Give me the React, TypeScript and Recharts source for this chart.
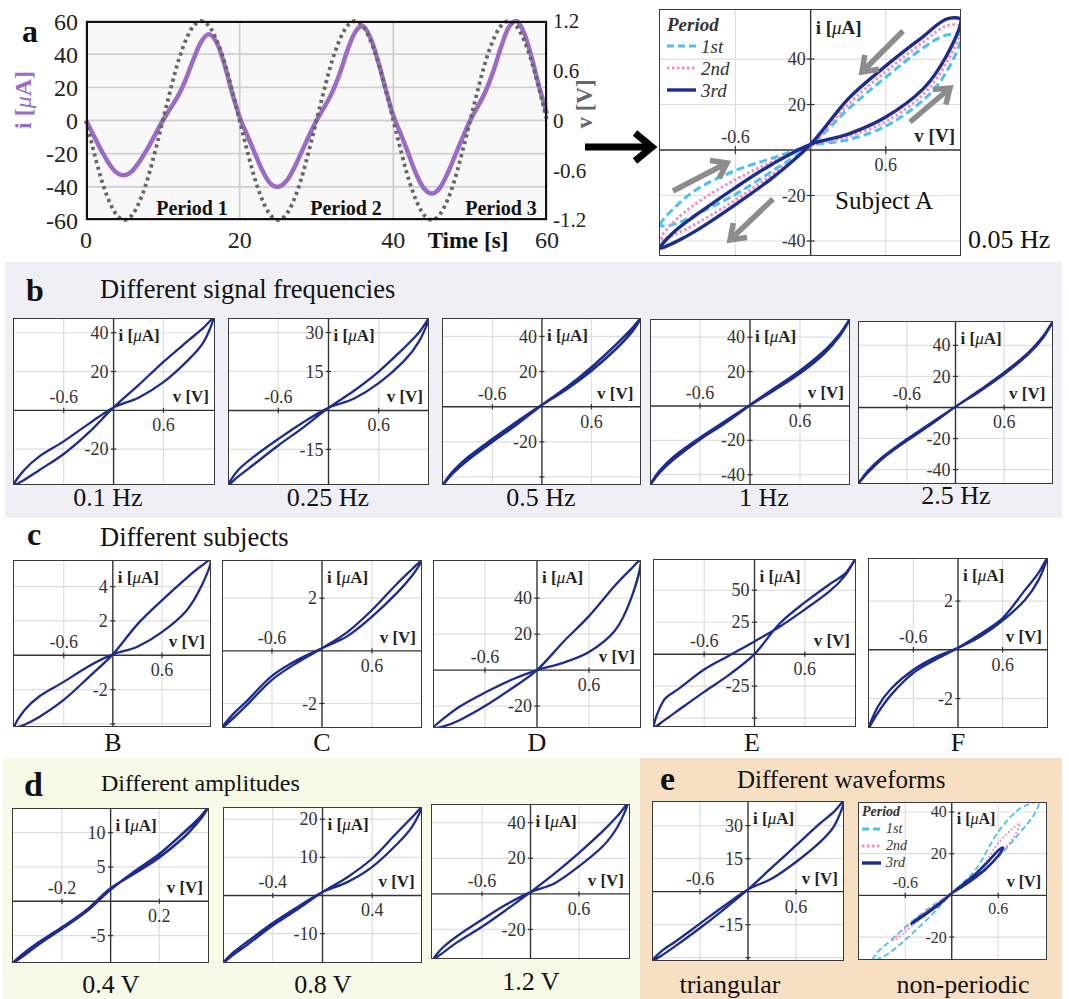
import React from 'react';
import { LineChart, Line, XAxis, YAxis, CartesianGrid, ReferenceLine, ReferenceDot } from 'recharts';

const SERIF = '"Liberation Serif", "DejaVu Serif", serif';
const NAVY = '#1c2d8f';
const BLUE = '#4cc0ee';
const PINK = '#f68cc4';
const PURPLE = '#9a6cc6';

// panel a, time series (1 s steps)
const tSec = [0, 1, 2, 3, 4, 5, 6, 7, 8, 9, 10, 11, 12, 13, 14, 15, 16, 17, 18, 19, 20,
  21, 22, 23, 24, 25, 26, 27, 28, 29, 30, 31, 32, 33, 34, 35, 36, 37, 38, 39, 40,
  41, 42, 43, 44, 45, 46, 47, 48, 49, 50, 51, 52, 53, 54, 55, 56, 57, 58, 59, 60];
const iSeries = [0, -9, -18, -26, -31.5, -33, -30.5, -24.5, -17, -8.5, 0, 7.5, 15, 25, 37, 47.5, 52, 47, 34, 17, 2,
  -9, -20, -30.5, -38, -40, -37, -29.5, -19.5, -9.5, 0, 8, 16.5, 28, 42, 53, 57, 50, 36, 19, 3,
  -8.5, -20.5, -32.5, -41, -44, -41, -32.5, -21.5, -10.5, 0, 8.5, 17.5, 29.5, 44, 56, 60, 53, 38, 20, 4];
const vSeries = [0, -0.37, -0.71, -0.97, -1.14, -1.2, -1.14, -0.97, -0.71, -0.37, 0, 0.37, 0.71, 0.97, 1.14, 1.2, 1.14, 0.97, 0.71, 0.37, 0,
  -0.37, -0.71, -0.97, -1.14, -1.2, -1.14, -0.97, -0.71, -0.37, 0, 0.37, 0.71, 0.97, 1.14, 1.2, 1.14, 0.97, 0.71, 0.37, 0,
  -0.37, -0.71, -0.97, -1.14, -1.2, -1.14, -0.97, -0.71, -0.37, 0, 0.37, 0.71, 0.97, 1.14, 1.2, 1.14, 0.97, 0.71, 0.37, 0];
const tTicks = [0, 20, 40, 60];
const iTicks = [-60, -40, -20, 0, 20, 40, 60];
const vTicks = [-1.2, -0.6, 0, 0.6, 1.2];

// voltage grids for the loops
const v12 = [-1.2, -1.08, -0.9, -0.6, -0.3, 0, 0.3, 0.6, 0.9, 1.08, 1.2];
const v08 = [-0.8, -0.72, -0.6, -0.4, -0.2, 0, 0.2, 0.4, 0.6, 0.72, 0.8];
const v04 = [-0.4, -0.36, -0.3, -0.2, -0.1, 0, 0.1, 0.2, 0.3, 0.36, 0.4];
const vNp1 = [-1.02, -0.95, -0.8, -0.5, -0.25, 0, 0.3, 0.6, 0.85, 1.05, 1.13];
const vNp2 = [-0.76, -0.7, -0.6, -0.4, -0.2, 0, 0.2, 0.4, 0.6, 0.8, 0.88];
const vNp3 = [-0.52, -0.45, -0.35, -0.25, -0.12, 0, 0.15, 0.3, 0.45, 0.6, 0.66];

// a: subject A, 0.05 Hz, three periods (rise = v increasing, fall = v decreasing)
const aRise1 = [-33, -25, -17, -9, -3.5, 2, 4.5, 10.5, 22, 34, 50];
const aFall1 = [-33, -32.5, -28, -19.5, -9, 2, 18, 32, 45, 50.5, 50];
const aRise2 = [-39, -31, -23, -13, -5, 2, 6, 12.5, 24.5, 38, 54];
const aFall2 = [-39, -37, -32, -22, -10.5, 2, 20, 34.5, 47.5, 54.5, 54];
const aRise3 = [-43, -35.5, -28, -16.5, -6, 2.5, 7, 14.5, 27, 41, 57];
const aFall3 = [-43, -40.5, -35, -24, -12, 2.5, 22.5, 37, 50, 57.5, 57];

// b: frequencies
const b01Rise = [-38.5, -31, -24, -16, -7, 1.5, 6.5, 14.5, 26, 35, 47.5];
const b01Fall = [-38.5, -36, -31, -22.5, -11.5, 1.5, 13, 25, 36, 42.5, 47.5];
const b025Rise = [-28.7, -23, -18, -11, -4.5, 1, 4.5, 10.5, 19, 26.5, 35.5];
const b025Fall = [-28.7, -25.5, -21, -13.5, -6.5, 1, 7.5, 15, 24, 30, 35.5];
const b05Rise = [-44.6, -37, -29, -18.5, -8.5, 1, 10, 20.5, 33, 42, 50.5];
const b05Fall = [-44.6, -38, -30.5, -20, -10, 1, 11, 22.5, 35.5, 44, 50.5];
const b1Rise = [-46, -37.5, -29, -18.5, -9, 0.5, 9.5, 19, 31, 41, 50.6];
const b1Fall = [-46, -38.5, -30.5, -19.5, -10, 0.5, 10.5, 20.5, 32.5, 42, 50.6];
const b25Rise = [-49.3, -41, -32, -20.5, -10, 0.5, 10.5, 21.5, 34.5, 45, 55.7];
const b25Fall = [-49.3, -42, -33, -21.5, -10.8, 0.5, 11.2, 22.5, 35.5, 46, 55.7];

// c: subjects B..F
const cBRise = [-4.18, -3.2, -2.4, -1.55, -0.65, 0.05, 0.5, 1.35, 2.6, 4, 5.55];
const cBFall = [-4.18, -4.05, -3.6, -2.6, -1.3, 0.05, 1.8, 3.2, 4.5, 5.2, 5.55];
const cCRise = [-2.93, -2.45, -1.9, -0.95, -0.35, 0.1, 0.55, 1.3, 2.2, 2.85, 3.45];
const cCFall = [-2.93, -2.6, -2.05, -1.1, -0.45, 0.1, 0.7, 1.55, 2.55, 3.1, 3.45];
const cDRise = [-32.2, -27, -20.5, -12.5, -5.5, 0, 4, 10, 22, 39, 61];
const cDFall = [-32.2, -31.3, -28, -20, -10.5, 0, 15.5, 30, 47, 56, 61];
const cERise = [-57, -36, -27, -12, -1, 10, 21.5, 35, 49.5, 61.5, 74.5];
const cEFall = [-57, -52, -43.5, -29.5, -16, 0, 24, 40.5, 55, 63, 74.5];
const cFRise = [-3.21, -2.35, -1.6, -0.82, -0.3, 0.08, 0.55, 1.2, 2.05, 2.85, 3.77];
const cFFall = [-3.21, -2.6, -1.85, -0.95, -0.4, 0.08, 0.65, 1.3, 2.45, 3.15, 3.77];

// d: amplitudes
const d04Rise = [-9, -7.7, -6.1, -3.8, -1.3, 1.9, 4.1, 6.4, 9.3, 11.6, 13.6];
const d04Fall = [-9, -8, -6.4, -4, -1.5, 1.7, 4.4, 6.9, 10, 12, 13.6];
const d08Rise = [-17.7, -15, -12, -7.2, -3, 0.9, 3.5, 7.5, 13.5, 18, 23.2];
const d08Fall = [-17.7, -15.6, -12.8, -7.9, -3.6, 0.9, 4.8, 9.7, 16.5, 20.5, 23.2];
const d12Rise = [-36.6, -30, -23.5, -14.5, -6, 1, 6, 15.5, 27, 38, 50.5];
const d12Fall = [-36.6, -33, -27, -18.5, -9, 1, 11.5, 23, 35.5, 44, 50.5];

// e: waveforms
const eTriRise = [-31.5, -27, -22.5, -14.5, -6.5, 1, 6, 13.5, 22.5, 30, 41.2];
const eTriFall = [-31.5, -29, -24.5, -16.5, -8, 1, 11, 21, 31, 36.5, 41.2];
const eNp1Rise = [-31, -27, -22, -12, -5, 1, 9, 18.4, 28.8, 38, 44.8];
const eNp1Fall = [-31, -30.5, -27.5, -18, -9, 1, 12, 30.4, 40.8, 44.5, 44.8];
const eNp2Rise = [-21.6, -19, -16, -9.5, -4, 1, 5.5, 11, 19, 28, 34.4];
const eNp2Fall = [-21.6, -20.5, -17.5, -11, -5, 1, 7, 14, 25, 32.5, 34.4];
const eNp3Rise = [-13.6, -11.5, -9, -6.3, -2.7, 1, 4.5, 8.5, 13, 19, 22.9];
const eNp3Fall = [-13.6, -12, -9.5, -6.8, -3, 1, 5.5, 10, 15.5, 21.5, 22.9];

const timeData = tSec.map((t, k) => ({ t, i: iSeries[k], v: vSeries[k] }));

const loopPoints = (v: number[], rise: number[], fall: number[]) => {
  const pts = v.map((x, k) => ({ v: x, i: rise[k] }));
  for (let k = v.length - 2; k >= 0; k--) pts.push({ v: v[k], i: fall[k] });
  return pts;
};

// smooth curve through the points; tangents scaled by chord length, closed paths wrap round
const smoothCurve = (context: any) => {
  let pts: number[][] = [];
  const dist = (a: number[], b: number[]) => Math.hypot(b[0] - a[0], b[1] - a[1]) || 1e-6;
  return {
    areaStart() {},
    areaEnd() {},
    lineStart() { pts = []; },
    point(x: number, y: number) { pts.push([+x, +y]); },
    lineEnd() {
      const n = pts.length;
      if (!n) return;
      context.moveTo(pts[0][0], pts[0][1]);
      const closed = n > 3 && dist(pts[0], pts[n - 1]) < 0.5;
      for (let k = 0; k < n - 1; k++) {
        const p1 = pts[k];
        const p2 = pts[k + 1];
        let p0 = pts[Math.max(k - 1, 0)];
        let p3 = pts[Math.min(k + 2, n - 1)];
        let d01 = k > 0 ? dist(p0, p1) : 0;
        let d23 = k + 2 < n ? dist(p2, p3) : 0;
        if (closed && k === 0) { p0 = pts[n - 2]; d01 = dist(p0, p1); }
        if (closed && k === n - 2) { p3 = pts[1]; d23 = dist(p2, p3); }
        const d12 = dist(p1, p2);
        const s1 = d12 / (3 * (d01 + d12));
        const s2 = d12 / (3 * (d12 + d23));
        context.bezierCurveTo(
          p1[0] + (p2[0] - p0[0]) * s1, p1[1] + (p2[1] - p0[1]) * s1,
          p2[0] - (p3[0] - p1[0]) * s2, p2[1] - (p3[1] - p1[1]) * s2,
          p2[0], p2[1],
        );
      }
    },
  };
};

type Loop = { pts: { v: number; i: number }[]; color: string; width: number; dash?: string };

const navyLoop = (v: number[], rise: number[], fall: number[], width = 2.3): Loop => ({
  pts: loopPoints(v, rise, fall), color: NAVY, width,
});

const DotText = (props: any) => {
  const { viewBox, text, dx = 0, dy = 0, anchor = 'middle', size = 17, bold = false, rich = false, fill = '#333' } = props;
  if (!viewBox) return null;
  const cx = viewBox.x + (viewBox.width || 0) / 2;
  const cy = viewBox.y + (viewBox.height || 0) / 2;
  return (
    <text x={cx + dx} y={cy + dy} textAnchor={anchor} fontSize={size} fontFamily={SERIF}
      fontWeight={bold ? 700 : 400} fill={fill}>
      {rich ? (
        <>
          <tspan fontWeight={700}>i [</tspan>
          <tspan fontStyle="italic" fontWeight={400}>μ</tspan>
          <tspan fontWeight={700}>A]</tspan>
        </>
      ) : text}
    </text>
  );
};

type PlotProps = {
  box: [number, number, number, number];
  xDom: [number, number];
  yDom: [number, number];
  xTicks: number[];
  yTicks: number[];
  yGrid: number[];
  loops: Loop[];
  fs?: number;
  afs?: number;
};

const LoopPlot = ({ box, xDom, yDom, xTicks, yTicks, yGrid, loops, fs = 18, afs = 17 }: PlotProps) => {
  const [left, top, w, h] = box;
  const hid = { fill: 'none', stroke: 'none', r: 0, ifOverflow: 'visible' as const };
  const mx = (xDom[1] - xDom[0]) * 0.013;
  const my = (yDom[1] - yDom[0]) * 0.016;
  return (
    <div style={{ position: 'absolute', left, top, width: w, height: h, background: '#fff' }}>
      <LineChart width={w} height={h} margin={{ top: 0, right: 0, bottom: 0, left: 0 }}>
        <XAxis type="number" dataKey="v" domain={xDom} hide />
        <YAxis type="number" dataKey="i" domain={yDom} hide />
        {xTicks.map((x) => <ReferenceLine key={'gx' + x} x={x} stroke="#dedede" strokeWidth={1.2} />)}
        {yGrid.map((y) => <ReferenceLine key={'gy' + y} y={y} stroke="#dedede" strokeWidth={1.2} />)}
        <ReferenceLine x={0} stroke="#333" strokeWidth={1.4} />
        <ReferenceLine y={0} stroke="#333" strokeWidth={1.4} />
        {yGrid.map((y) => (
          <ReferenceLine key={'my' + y} segment={[{ x: -mx, y }, { x: mx, y }]} stroke="#333" strokeWidth={1.2} />
        ))}
        {xTicks.map((x) => (
          <ReferenceLine key={'mx' + x} segment={[{ x, y: -my }, { x, y: my }]} stroke="#333" strokeWidth={1.2} />
        ))}
        {loops.map((lp, k) => (
          <Line key={k} data={lp.pts} dataKey="i" type={smoothCurve as any} stroke={lp.color} strokeWidth={lp.width}
            strokeDasharray={lp.dash} dot={false} activeDot={false} isAnimationActive={false} />
        ))}
        {yTicks.map((y) => (
          <ReferenceDot key={'ty' + y} x={0} y={y} {...hid}
            label={<DotText text={String(y)} anchor="end" dx={-5} dy={fs * 0.34} size={fs} />} />
        ))}
        {xTicks.map((x) => (
          <ReferenceDot key={'tx' + x} x={x} y={0} {...hid}
            label={<DotText text={String(x)} anchor="middle" dy={x < 0 ? -7 : fs + 3} size={fs} />} />
        ))}
        <ReferenceDot x={0} y={yDom[1]} {...hid}
          label={<DotText rich anchor="start" dx={5} dy={afs + 6} size={afs} fill="#222" />} />
        <ReferenceDot x={xDom[1]} y={0} {...hid}
          label={<DotText text="v [V]" anchor="end" dx={-6} dy={-8} size={afs} bold fill="#222" />} />
      </LineChart>
      <div style={{ position: 'absolute', left: 0, top: 0, width: w, height: h, border: '1.6px solid #3a3a3a', boxSizing: 'border-box', pointerEvents: 'none' }} />
    </div>
  );
};

const Txt = ({ x, y, size, children, bold = false, italic = false, align = 'left', color = '#111' }: any) => (
  <div style={{
    position: 'absolute', left: x, top: y, fontSize: size, lineHeight: 1, whiteSpace: 'nowrap',
    fontWeight: bold ? 700 : 400, fontStyle: italic ? 'italic' : 'normal', color,
    transform: align === 'center' ? 'translate(-50%, -50%)' : 'translate(0, -50%)',
  }}>{children}</div>
);

const Arrow = ({ x1, y1, x2, y2, color, width, head, half }: any) => {
  const a = Math.atan2(y2 - y1, x2 - x1);
  const bx = x2 - head * Math.cos(a);
  const by = y2 - head * Math.sin(a);
  const px = Math.sin(a) * half;
  const py = -Math.cos(a) * half;
  return (
    <g stroke={color} strokeWidth={width} fill="none" strokeLinecap="butt" strokeLinejoin="miter">
      <line x1={x1} y1={y1} x2={x2 - width * 0.7 * Math.cos(a)} y2={y2 - width * 0.7 * Math.sin(a)} />
      <polyline points={`${bx + px},${by + py} ${x2},${y2} ${bx - px},${by - py}`} />
    </g>
  );
};

const LegendRows = ({ x, y, gap, lineW, size }: any) => {
  const rows = [
    { label: '1st', color: BLUE, dash: '7 4', w: 3 },
    { label: '2nd', color: PINK, dash: '2.5 2.5', w: 3 },
    { label: '3rd', color: NAVY, dash: undefined, w: 3.4 },
  ];
  return (
    <>
      <Txt x={x} y={y} size={size} bold italic color="#333">Period</Txt>
      {rows.map((r, k) => (
        <React.Fragment key={r.label}>
          <svg style={{ position: 'absolute', left: x, top: y + gap * (k + 1) - 4 }} width={lineW} height={8}>
            <line x1={0} y1={4} x2={lineW} y2={4} stroke={r.color} strokeWidth={r.w} strokeDasharray={r.dash} />
          </svg>
          <Txt x={x + lineW + 5} y={y + gap * (k + 1)} size={size} italic color="#333">{r.label}</Txt>
        </React.Fragment>
      ))}
    </>
  );
};

const tickStyle = { fontSize: 24, fill: '#222', fontFamily: SERIF };
const rightTickStyle = { fontSize: 21, fill: '#222', fontFamily: SERIF };

const App = () => {
  const aLoops: Loop[] = [
    { pts: loopPoints(v12, aRise1, aFall1), color: BLUE, width: 3, dash: '8 4' },
    { pts: loopPoints(v12, aRise2, aFall2), color: PINK, width: 3, dash: '2.5 2.5' },
    { pts: loopPoints(v12, aRise3, aFall3), color: NAVY, width: 3.4 },
  ];
  const npLoops: Loop[] = [
    { pts: loopPoints(vNp1, eNp1Rise, eNp1Fall), color: BLUE, width: 1.8, dash: '6 3' },
    { pts: loopPoints(vNp2, eNp2Rise, eNp2Fall), color: PINK, width: 1.8, dash: '2 2' },
    { pts: loopPoints(vNp3, eNp3Rise, eNp3Fall), color: NAVY, width: 2.6 },
  ];
  const x6 = [-0.6, 0.6];

  return (
    <div style={{ position: 'absolute', left: 0, top: 0, width: 1069, height: 999, background: '#fff', overflow: 'hidden', fontFamily: SERIF }}>
      {/* panel backgrounds */}
      <div style={{ position: 'absolute', left: 5, top: 262, width: 1057, height: 256, background: '#f0eff6' }} />
      <div style={{ position: 'absolute', left: 3, top: 758, width: 637, height: 241, background: '#f6fae7' }} />
      <div style={{ position: 'absolute', left: 640, top: 758, width: 422, height: 241, background: '#f7dfc3' }} />

      {/* a: time series */}
      <div style={{ position: 'absolute', left: 0, top: 0 }}>
        <LineChart width={620} height={262} data={timeData} margin={{ top: 21, right: 30, bottom: 0, left: 26 }}>
          <CartesianGrid yAxisId="i" stroke="#cfcfcf" strokeWidth={1.8} fill="#f8f8f8" />
          <XAxis dataKey="t" type="number" domain={[0, 60]} ticks={tTicks} tickLine={false} axisLine={false}
            tickSize={0} tickMargin={11} height={42} tick={tickStyle} />
          <YAxis yAxisId="i" type="number" domain={[-60, 60]} ticks={iTicks} tickLine={false} axisLine={false}
            tickSize={0} tickMargin={8} width={60} tick={tickStyle} />
          <YAxis yAxisId="v" orientation="right" type="number" domain={[-1.2, 1.2]} ticks={vTicks} tickLine={false}
            axisLine={false} tickSize={0} tickMargin={6} width={43} tick={rightTickStyle} />
          <Line yAxisId="i" dataKey="i" type={smoothCurve as any} stroke={PURPLE} strokeWidth={4.5} dot={false} activeDot={false} isAnimationActive={false} />
          <Line yAxisId="v" dataKey="v" type={smoothCurve as any} stroke="#666" strokeWidth={3.8} strokeDasharray="3.2 3.6" dot={false} activeDot={false} isAnimationActive={false} />
        </LineChart>
      </div>
      <div style={{ position: 'absolute', left: 86, top: 21, width: 461, height: 199, border: '2.6px solid #111', boxSizing: 'border-box' }} />
      <div style={{ position: 'absolute', left: 23, top: 100, transform: 'translate(-50%, -50%) rotate(-90deg)', fontSize: 24, color: PURPLE, whiteSpace: 'nowrap', lineHeight: 1 }}>
        <b>i [</b><i>μ</i><b>A]</b>
      </div>
      <div style={{ position: 'absolute', left: 584, top: 104, transform: 'translate(-50%, -50%) rotate(-90deg)', fontSize: 23, color: '#666', whiteSpace: 'nowrap', lineHeight: 1, fontWeight: 700 }}>
        v [V]
      </div>
      <Txt x={192} y={208} size={20} bold align="center">Period 1</Txt>
      <Txt x={346} y={208} size={20} bold align="center">Period 2</Txt>
      <Txt x={501} y={208} size={20} bold align="center">Period 3</Txt>
      <Txt x={468} y={240} size={23} bold align="center">Time [s]</Txt>
      <Txt x={22} y={31} size={32} bold>a</Txt>

      {/* a: loop */}
      <LoopPlot box={[659, 9, 302, 247]} xDom={[-1.21, 1.2]} yDom={[-46.6, 62]} xTicks={x6}
        yTicks={[-40, -20, 20, 40]} yGrid={[-40, -20, 20, 40]} loops={aLoops} fs={18} afs={19} />
      <LegendRows x={667} y={24} gap={22} lineW={29} size={19} />
      <Txt x={884} y={200} size={25} align="center">Subject A</Txt>
      <Txt x={968} y={240} size={26}>0.05 Hz</Txt>

      {/* b */}
      <Txt x={26} y={290} size={32} bold>b</Txt>
      <Txt x={100} y={289} size={26.5}>Different signal frequencies</Txt>
      <LoopPlot box={[13, 318, 202, 167]} xDom={[-1.21, 1.22]} yDom={[-38.5, 47.6]} xTicks={x6}
        yTicks={[-20, 20, 40]} yGrid={[-20, 20, 40]} loops={[navyLoop(v12, b01Rise, b01Fall)]} />
      <LoopPlot box={[228, 318, 201, 167]} xDom={[-1.2, 1.2]} yDom={[-28.7, 35.6]} xTicks={x6}
        yTicks={[-15, 15, 30]} yGrid={[-15, 15, 30]} loops={[navyLoop(v12, b025Rise, b025Fall)]} />
      <LoopPlot box={[442, 318, 199, 167]} xDom={[-1.21, 1.18]} yDom={[-44.6, 50.5]} xTicks={x6}
        yTicks={[-20, 20, 40]} yGrid={[-40, -20, 20, 40]} loops={[navyLoop(v12, b05Rise, b05Fall, 2.6)]} />
      <LoopPlot box={[650, 319, 200, 166]} xDom={[-1.2, 1.2]} yDom={[-46, 50.6]} xTicks={x6}
        yTicks={[-40, -20, 20, 40]} yGrid={[-40, -20, 20, 40]} loops={[navyLoop(v12, b1Rise, b1Fall, 2.6)]} />
      <LoopPlot box={[858, 321, 195, 163]} xDom={[-1.18, 1.18]} yDom={[-49.3, 55.7]} xTicks={x6}
        yTicks={[-40, -20, 20, 40]} yGrid={[-40, -20, 20, 40]} loops={[navyLoop(v12, b25Rise, b25Fall, 2.4)]} />
      <Txt x={108} y={498} size={26} align="center">0.1 Hz</Txt>
      <Txt x={328} y={498} size={26} align="center">0.25 Hz</Txt>
      <Txt x={541} y={498} size={26} align="center">0.5 Hz</Txt>
      <Txt x={764} y={498} size={26} align="center">1 Hz</Txt>
      <Txt x={956} y={496} size={26} align="center">2.5 Hz</Txt>

      {/* c */}
      <Txt x={27} y={534} size={32} bold>c</Txt>
      <Txt x={100} y={537} size={26.5}>Different subjects</Txt>
      <LoopPlot box={[13, 560, 198, 167]} xDom={[-1.22, 1.2]} yDom={[-4.18, 5.55]} xTicks={x6}
        yTicks={[-2, 2, 4]} yGrid={[-4, -2, 2, 4]} loops={[navyLoop(v12, cBRise, cBFall)]} />
      <LoopPlot box={[222, 560, 200, 168]} xDom={[-1.2, 1.2]} yDom={[-2.93, 3.45]} xTicks={x6}
        yTicks={[-2, 2]} yGrid={[-2, 2]} loops={[navyLoop(v12, cCRise, cCFall)]} />
      <LoopPlot box={[433, 560, 208, 168]} xDom={[-1.2, 1.2]} yDom={[-32.2, 61.2]} xTicks={x6}
        yTicks={[-20, 20, 40]} yGrid={[-20, 20, 40]} loops={[navyLoop(v12, cDRise, cDFall)]} />
      <LoopPlot box={[653, 559, 203, 168]} xDom={[-1.21, 1.21]} yDom={[-57, 74.5]} xTicks={x6}
        yTicks={[-25, 25, 50]} yGrid={[-50, -25, 25, 50]} loops={[navyLoop(v12, cERise, cEFall)]} />
      <LoopPlot box={[868, 558, 180, 170]} xDom={[-1.21, 1.21]} yDom={[-3.21, 3.77]} xTicks={x6}
        yTicks={[-2, 2]} yGrid={[-2, 2]} loops={[navyLoop(v12, cFRise, cFFall)]} />
      <Txt x={113} y={743} size={26} align="center">B</Txt>
      <Txt x={322} y={743} size={26} align="center">C</Txt>
      <Txt x={537} y={743} size={26} align="center">D</Txt>
      <Txt x={752} y={743} size={26} align="center">E</Txt>
      <Txt x={958} y={743} size={26} align="center">F</Txt>

      {/* d */}
      <Txt x={24} y={785} size={34} bold>d</Txt>
      <Txt x={101} y={783} size={24}>Different amplitudes</Txt>
      <LoopPlot box={[12, 808, 197, 155]} xDom={[-0.405, 0.404]} yDom={[-9, 13.6]} xTicks={[-0.2, 0.2]}
        yTicks={[-5, 5, 10]} yGrid={[-5, 5, 10]} loops={[navyLoop(v04, d04Rise, d04Fall, 2.6)]} />
      <LoopPlot box={[223, 807, 199, 156]} xDom={[-0.8, 0.79]} yDom={[-17.7, 23.2]} xTicks={[-0.4, 0.4]}
        yTicks={[-10, 10, 20]} yGrid={[-10, 10, 20]} loops={[navyLoop(v08, d08Rise, d08Fall)]} />
      <LoopPlot box={[431, 804, 199, 155]} xDom={[-1.23, 1.23]} yDom={[-36.6, 50.5]} xTicks={x6}
        yTicks={[-20, 20, 40]} yGrid={[-20, 20, 40]} loops={[navyLoop(v12, d12Rise, d12Fall)]} />
      <Txt x={111} y={985} size={26} align="center">0.4 V</Txt>
      <Txt x={323} y={985} size={26} align="center">0.8 V</Txt>
      <Txt x={531} y={982} size={26} align="center">1.2 V</Txt>

      {/* e */}
      <Txt x={660} y={779} size={34} bold>e</Txt>
      <Txt x={737} y={779} size={25}>Different waveforms</Txt>
      <LoopPlot box={[652, 801, 192, 160]} xDom={[-1.2, 1.2]} yDom={[-31.5, 41.2]} xTicks={x6}
        yTicks={[-15, 15, 30]} yGrid={[-30, -15, 15, 30]} loops={[navyLoop(v12, eTriRise, eTriFall)]} />
      <LoopPlot box={[858, 802, 189, 158]} xDom={[-1.21, 1.23]} yDom={[-31, 44.8]} xTicks={x6}
        yTicks={[-20, 20, 40]} yGrid={[-20, 20, 40]} loops={npLoops} fs={16} afs={16} />
      <LegendRows x={862} y={812} gap={17} lineW={19} size={14} />
      <Txt x={730} y={985} size={26} align="center">triangular</Txt>
      <Txt x={963} y={985} size={26} align="center">non-periodic</Txt>

      {/* arrows */}
      <svg style={{ position: 'absolute', left: 0, top: 0, pointerEvents: 'none' }} width={1069} height={999}>
        <Arrow x1={585} y1={147} x2={652} y2={147} color="#000" width={7} head={17} half={14} />
        <Arrow x1={903} y1={31} x2={862} y2={72} color="#8c8c8c" width={5.5} head={14} half={10} />
        <Arrow x1={910} y1={122} x2={950} y2={88} color="#8c8c8c" width={5.5} head={14} half={10} />
        <Arrow x1={673} y1={191} x2={727} y2={163} color="#8c8c8c" width={5.5} head={14} half={10} />
        <Arrow x1={773} y1={199} x2={730} y2={240} color="#8c8c8c" width={5.5} head={14} half={10} />
      </svg>
    </div>
  );
};

export default App;
